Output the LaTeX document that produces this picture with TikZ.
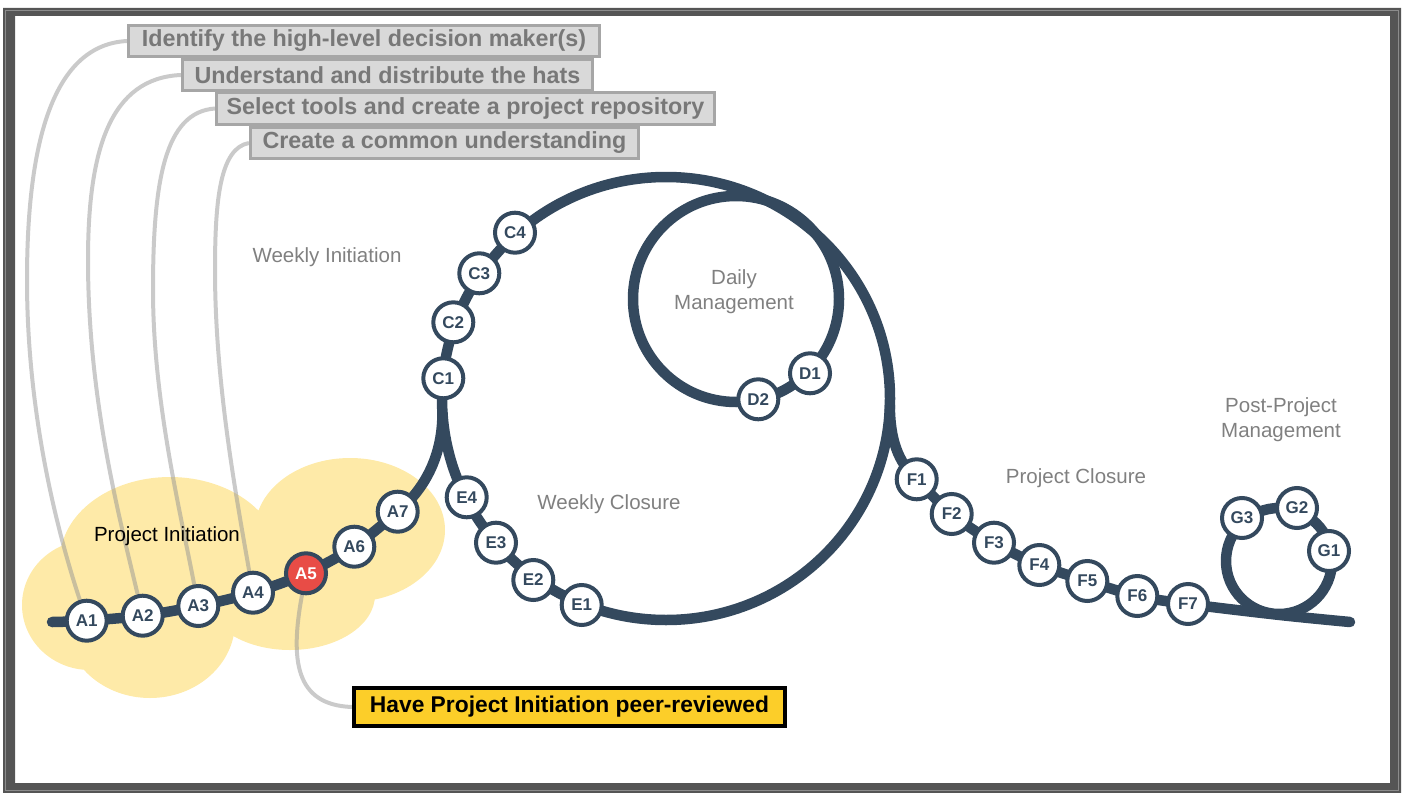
\documentclass[tikz,border=0pt]{standalone}
\usepackage{fontspec}
\setmainfont{Liberation Sans}
\definecolor{navy}{RGB}{52,73,94}
\definecolor{redA}{RGB}{232,76,70}
\definecolor{cloudY}{RGB}{254,234,168}
\definecolor{lineG}{RGB}{150,150,150}
\definecolor{boxF}{RGB}{217,217,217}
\definecolor{boxB}{RGB}{166,166,166}
\definecolor{boxT}{RGB}{120,120,120}
\definecolor{lblG}{RGB}{128,128,128}
\definecolor{gold}{RGB}{252,206,41}
\definecolor{frameG}{RGB}{85,85,85}
\definecolor{frameL}{RGB}{140,140,140}
\pgfdeclarelayer{bg}
\pgfdeclarelayer{mid}
\pgfsetlayers{bg,mid,main}
\begin{document}
\begin{tikzpicture}[x=1pt,y=-1pt,
  stop/.style={circle, draw=navy, line width=4pt, fill=white, minimum size=40pt, inner sep=0pt, text=navy, font=\bfseries\fontsize{17}{17}\selectfont},
  hot/.style={stop, fill=redA, text=white},
  taskbox/.style={draw=boxB, line width=3pt, fill=boxF, text=boxT, font=\bfseries\fontsize{23.3}{24}\selectfont, inner sep=0pt, minimum height=31pt},
  keybox/.style={draw=black, line width=4pt, fill=gold, text=black, font=\bfseries\fontsize{22.8}{24}\selectfont, inner sep=0pt, minimum height=38pt, minimum width=431pt},
  phase/.style={text=lblG, font=\fontsize{20.5}{25}\selectfont, align=center},
  track/.style={draw=navy, line width=10.5pt},
  leader/.style={draw=lineG, line width=4pt, opacity=0.5},
]
\useasboundingbox (0,0) rectangle (1410,792);
% frame
\fill[frameG, even odd rule] (3,8) rectangle (1401,793) (15,16) rectangle (1390,783);
\draw[frameL, line width=1pt] (5.5,10.5) rectangle (1398,790);

% stops
\node[stop] (A1) at (86.7,620.7) {A1};
\node[stop] (A2) at (142.7,615.7) {A2};
\node[stop] (A3) at (198.3,606) {A3};
\node[stop] (A4) at (253,592.7) {A4};
\node[hot]  (A5) at (306,573.3) {A5};
\node[stop] (A6) at (354.3,546.7) {A6};
\node[stop] (A7) at (397.7,511.7) {A7};
\node[stop] (C1) at (443.3,378.3) {C1};
\node[stop] (C2) at (453.3,322.3) {C2};
\node[stop] (C3) at (479.3,273.3) {C3};
\node[stop] (C4) at (515,232.7) {C4};
\node[stop] (D1) at (810,373.3) {D1};
\node[stop] (D2) at (758.3,399.3) {D2};
\node[stop] (E4) at (466.7,497.3) {E4};
\node[stop] (E3) at (496,542.7) {E3};
\node[stop] (E2) at (533.3,580) {E2};
\node[stop] (E1) at (581.7,605) {E1};
\node[stop] (F1) at (916.7,479.3) {F1};
\node[stop] (F2) at (951.7,514) {F2};
\node[stop] (F3) at (994,542.7) {F3};
\node[stop] (F4) at (1039.3,565) {F4};
\node[stop] (F5) at (1087.3,581) {F5};
\node[stop] (F6) at (1137.3,596) {F6};
\node[stop] (F7) at (1188,604) {F7};
\node[stop] (G3) at (1242,518) {G3};
\node[stop] (G2) at (1297,508) {G2};
\node[stop] (G1) at (1329,551) {G1};

% phase labels
\node[phase] (wi) at (327,257) {Weekly Initiation};
\node[phase] (dm) at (734,292) {Daily\\Management};
\node[phase] (wc) at (609,504) {Weekly Closure};
\node[phase] (pc) at (1076,478) {Project Closure};
\node[phase] (ppm) at (1281,420) {Post-Project\\Management};
\node[phase, text=black] (pi) at (167,536) {Project Initiation};

% task boxes
\node[taskbox, minimum width=471pt] (t1) at (364,41) {Identify the high-level decision maker(s)};
\node[taskbox, minimum width=410pt] (t2) at (387.5,75) {Understand and distribute the hats};
\node[taskbox, minimum width=498pt, minimum height=32pt] (t3) at (465.5,108.5) {Select tools and create a project repository};
\node[taskbox, minimum width=388pt] (t4) at (444.5,143) {Create a common understanding};
\node[keybox] (k1) at (569.5,707) {Have Project Initiation peer-reviewed};

\begin{pgfonlayer}{bg}
  \fill[cloudY]
    (170,560) ellipse [x radius=110pt, y radius=83pt]
    (350,530) ellipse [x radius=95pt, y radius=72pt]
    (290,595) ellipse [x radius=85pt, y radius=55pt]
    (150,622) ellipse [x radius=85pt, y radius=76pt]
    (90,605) ellipse [x radius=68pt, y radius=65pt];
  \draw[leader] (t1.west) .. controls (50,45) and (27,150) .. (27,280) .. controls (27,420) and (60,540) .. (A1);
  \draw[leader] (t2.west) .. controls (110,78) and (88,150) .. (88,260) .. controls (88,400) and (120,520) .. (A2);
  \draw[leader] (t3.west) .. controls (165,112) and (153,180) .. (153,290) .. controls (153,400) and (180,510) .. (A3);
  \draw[leader] (t4.west) .. controls (220,148) and (215,200) .. (215,270) .. controls (215,380) and (235,490) .. (A4);
  \draw[leader] (A5) .. controls (290,660) and (295,705) .. (k1.west);
\end{pgfonlayer}

\begin{pgfonlayer}{mid}
  \draw[track, line cap=round] plot[smooth, tension=0.55] coordinates {(52,622) (A1.center) (A2.center) (A3.center) (A4.center) (A5.center) (A6.center) (A7.center)};
  \draw[track] (A7.center) .. controls (419,494) and (443,462) .. (442.4,412);
  \draw[track] (666,398.5) ellipse [x radius=224pt, y radius=221.5pt];
  \draw[track] (736,299) circle [radius=103pt];
  \draw[track] (889.8,405) .. controls (890,440) and (898,462) .. (F1.center);
  \draw[track, line cap=round] plot[smooth, tension=0.55] coordinates {(F1.center) (F2.center) (F3.center) (F4.center) (F5.center) (F6.center) (F7.center) (1280,615) (1350,622)};
  \draw[track] (1279,561) circle [radius=53pt];
\end{pgfonlayer}
\end{tikzpicture}
\end{document}
